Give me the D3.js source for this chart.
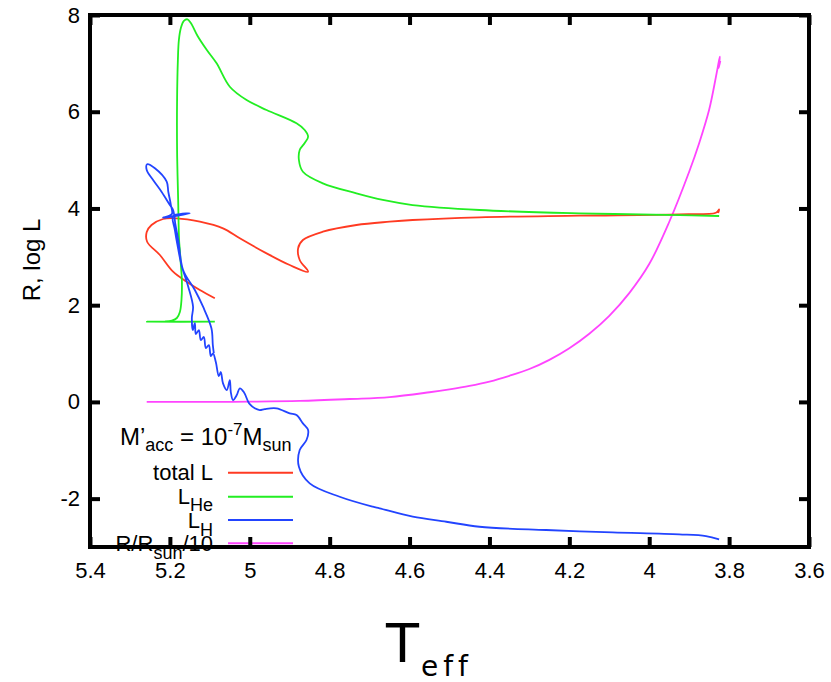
<!DOCTYPE html>
<html>
<head>
<meta charset="utf-8">
<script src="https://cdn.jsdelivr.net/npm/d3@7"></script>
<style>
  html, body { margin: 0; padding: 0; background: #fff; }
  svg { display: block; }
</style>
</head>
<body>
<svg id="chart" width="831" height="682"></svg>
<script>
// ---- data (log Teff, value) ----
const xTicks = [5.4, 5.2, 5.0, 4.8, 4.6, 4.4, 4.2, 4.0, 3.8, 3.6];
const yTicks = [-2, 0, 2, 4, 6, 8];

const totalL = [
  [5.0875, 2.142], [5.125, 2.313], [5.158, 2.485], [5.192, 2.692], [5.225, 3.037],
  [5.257, 3.312], [5.258, 3.513], [5.246, 3.658], [5.217, 3.782], [5.183, 3.796],
  [5.125, 3.726], [5.067, 3.589], [5.025, 3.383], [4.958, 3.072], [4.9, 2.830],
  [4.854, 2.692], [4.875, 2.934], [4.879, 3.176], [4.867, 3.347], [4.817, 3.519],
  [4.733, 3.658], [4.65, 3.726], [4.5925, 3.761], [4.425, 3.817], [4.175, 3.850],
  [3.925, 3.879], [3.833, 3.912], [3.825, 3.978], [3.8275, 3.906]
];

const LHe = [
  [5.0875, 1.658], [5.2575, 1.658], [5.2125, 1.662], [5.195, 1.683], [5.1825, 1.735],
  [5.175, 1.859], [5.171, 2.107], [5.17, 2.520], [5.1725, 2.830], [5.175, 3.141],
  [5.177, 3.347], [5.1793, 4.175], [5.182, 5.208], [5.182, 6.242], [5.18, 7.069],
  [5.1775, 7.483], [5.1725, 7.731], [5.165, 7.876], [5.156, 7.911], [5.1475, 7.835],
  [5.131, 7.572], [5.1075, 7.276], [5.083, 7.001], [5.05, 6.517], [5.008, 6.242],
  [4.958, 6.036], [4.883, 5.761], [4.8625, 5.622], [4.854, 5.483], [4.8625, 5.353],
  [4.875, 5.208], [4.877, 5.002], [4.867, 4.760], [4.817, 4.520], [4.733, 4.313],
  [4.667, 4.175], [4.5925, 4.071], [4.425, 3.968], [4.175, 3.900], [3.925, 3.864],
  [3.825, 3.844]
];

const LH = [
  [3.825, -2.842], [3.858, -2.773], [3.925, -2.738], [4.092, -2.697], [4.258, -2.649],
  [4.425, -2.581], [4.508, -2.478], [4.592, -2.374], [4.675, -2.200], [4.692, -2.167],
  [4.775, -1.961], [4.85, -1.684], [4.877, -1.340], [4.875, -0.995], [4.858, -0.788],
  [4.854, -0.581], [4.867, -0.443], [4.883, -0.271], [4.9, -0.236], [4.933, -0.133],
  [4.9625, -0.147], [4.975, -0.168], [4.9875, -0.133], [5.0, -0.044], [5.004, 0.004],
  [5.015, 0.204], [5.025, 0.281], [5.0325, 0.142], [5.042, 0.039], [5.0475, 0.204],
  [5.05, 0.452], [5.0575, 0.245], [5.067, 0.384], [5.0725, 0.618], [5.0775, 0.535],
  [5.085, 0.825], [5.092, 1.005], [5.0975, 0.949], [5.1025, 1.176], [5.11, 1.114],
  [5.115, 1.342], [5.1225, 1.280], [5.1275, 1.486], [5.135, 1.404], [5.1375, 1.631],
  [5.1425, 1.486], [5.145, 1.734], [5.142, 1.968], [5.154, 2.382], [5.171, 2.830],
  [5.181, 3.244], [5.1875, 3.554], [5.1925, 3.843], [5.175, 3.885], [5.15, 3.899],
  [5.18, 3.853], [5.217, 3.808], [5.195, 3.885], [5.1975, 4.071], [5.204, 4.346],
  [5.208, 4.553], [5.2375, 4.830], [5.257, 4.913], [5.258, 4.795], [5.242, 4.588],
  [5.221, 4.346], [5.2, 4.071], [5.192, 3.968], [5.186, 3.658], [5.179, 3.347],
  [5.167, 2.727], [5.1375, 2.313], [5.117, 1.968], [5.096, 1.522], [5.0925, 1.176],
  [5.09, 1.011]
];

const radius = [
  [5.258, 0.0], [5.1, 0.0], [5.0, 0.005], [4.875, 0.02], [4.75, 0.06], [4.65, 0.1],
  [4.55, 0.2], [4.5, 0.26], [4.45, 0.33], [4.4, 0.42], [4.35, 0.54], [4.3, 0.68],
  [4.25, 0.87], [4.2, 1.11], [4.15, 1.41], [4.1, 1.78], [4.05, 2.25], [4.0, 2.85],
  [3.95, 3.72], [3.9, 4.76], [3.875, 5.35], [3.85, 6.04], [3.833, 6.72],
  [3.825, 7.07], [3.823, 7.14], [3.826, 6.9], [3.822, 7.05]
];

const seriesNames = ["total L", "LHe", "LH", "R/Rsun/10"];
const seriesColors = ["#ff3a22", "#22ee22", "#2244ff", "#ff44ff"];

// ---- drawing ----
const svg = d3.select("#chart");
const L = 90, R = 809, T = 15, B = 547;
const x = d3.scaleLinear().domain([5.4, 3.6]).range([L, R]);
const y = d3.scaleLinear().domain([-3, 8]).range([B, T]);
const font = "'Liberation Sans', Arial, Helvetica, sans-serif";

const line = d3.line().x(d => x(d[0])).y(d => y(d[1])).curve(d3.curveCatmullRom.alpha(0.5));

const data = [totalL, LHe, LH, radius];
const drawOrder = [3, 0, 1, 2];
drawOrder.forEach(i => {
  svg.append("path").datum(data[i])
    .attr("d", line)
    .attr("fill", "none")
    .attr("stroke", seriesColors[i])
    .attr("stroke-width", 1.8)
    .attr("stroke-linejoin", "round");
});

// ---- legend ----
const lg = svg.append("g").attr("font-family", font).attr("fill", "#000");
const title = lg.append("text").attr("x", 120).attr("y", 445).attr("font-size", 24);
title.append("tspan").text("M’");
title.append("tspan").attr("font-size", 18).attr("dy", 6).text("acc");
title.append("tspan").attr("dy", -6).text(" = 10");
title.append("tspan").attr("font-size", 17).attr("dy", -10).text("-7");
title.append("tspan").attr("dy", 10).text("M");
title.append("tspan").attr("font-size", 18).attr("dy", 6).text("sun");

const legendY = [472.7, 496.7, 520, 543.3];
const legendLabels = [
  [["total L", 0, 22]],
  [["L", 0, 22], ["He", 7, 18]],
  [["L", 0, 22], ["H", 8, 18]],
  [["R/R", 0, 22], ["sun", 8, 18], ["/10", -8, 22]]
];
legendLabels.forEach((parts, i) => {
  const t = lg.append("text").attr("x", 213).attr("y", legendY[i] + 7.5)
    .attr("text-anchor", "end").attr("font-size", 22);
  parts.forEach(p => t.append("tspan").attr("dy", p[1]).attr("font-size", p[2]).text(p[0]));
  lg.append("line")
    .attr("x1", 228).attr("x2", 293)
    .attr("y1", legendY[i]).attr("y2", legendY[i])
    .attr("stroke", seriesColors[i]).attr("stroke-width", 2);
});

// ---- axes ----
const fmt = d => String(d);
const axB = svg.append("g").attr("transform", `translate(0,${B})`)
  .call(d3.axisBottom(x).tickValues(xTicks).tickFormat(fmt).tickSizeInner(-10).tickSizeOuter(0).tickPadding(15));
const axT = svg.append("g").attr("transform", `translate(0,${T})`)
  .call(d3.axisTop(x).tickValues(xTicks).tickFormat("").tickSizeInner(-10).tickSizeOuter(0));
const axL = svg.append("g").attr("transform", `translate(${L},0)`)
  .call(d3.axisLeft(y).tickValues(yTicks).tickFormat(fmt).tickSizeInner(-10).tickSizeOuter(0).tickPadding(10));
const axR = svg.append("g").attr("transform", `translate(${R},0)`)
  .call(d3.axisRight(y).tickValues(yTicks).tickFormat("").tickSizeInner(-10).tickSizeOuter(0));
[axB, axT, axL, axR].forEach(a => {
  a.select(".domain").remove();
  a.selectAll(".tick line").attr("stroke", "#000").attr("stroke-width", 4);
  a.selectAll(".tick text").attr("font-family", font).attr("font-size", 22).attr("fill", "#000");
});

svg.append("rect")
  .attr("x", L).attr("y", T).attr("width", R - L).attr("height", B - T)
  .attr("fill", "none").attr("stroke", "#000").attr("stroke-width", 4);

// ---- axis titles ----
svg.append("text")
  .attr("transform", "translate(40,260) rotate(-90)")
  .attr("text-anchor", "middle")
  .attr("font-family", font).attr("font-size", 24)
  .text("R, log L");

const xt = svg.append("text").attr("x", 386).attr("y", 662)
  .attr("font-family", "'DejaVu Sans', sans-serif").attr("font-size", 54);
xt.append("tspan").text("T");
xt.append("tspan").attr("dy", 14).attr("dx", 2).attr("font-size", 28).attr("letter-spacing", 5).text("eff");
</script>
</body>
</html>
